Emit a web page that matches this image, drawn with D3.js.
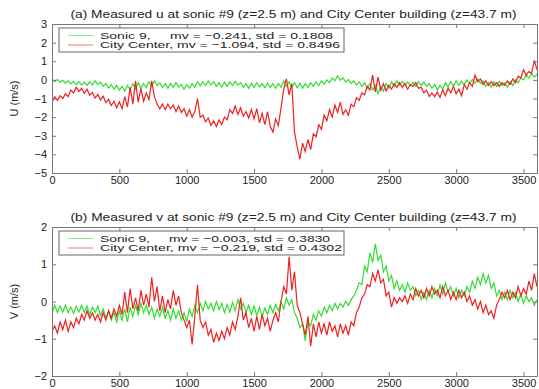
<!DOCTYPE html>
<html><head><meta charset="utf-8">
<script src="https://cdn.jsdelivr.net/npm/d3@7"></script>
<style>
body{margin:0;background:#fff;}
svg{display:block;font-family:"Liberation Sans",Arial,sans-serif;}
</style></head>
<body><svg id="c" width="539" height="389"></svg>
<script>
// sampling every 20 s from 0 to 3600 s
const timeStep = 20;
const xTicks = [0,500,1000,1500,2000,2500,3000,3500];
const uTicks = [-5,-4,-3,-2,-1,0,1,2,3];
const vTicks = [-2,-1,0,1,2];
const titles = ["(a) Measured u at sonic #9 (z=2.5 m) and City Center building (z=43.7 m)",
                "(b) Measured v at sonic #9 (z=2.5 m) and City Center building (z=43.7 m)"];
const yLabels = ["U (m/s)","V (m/s)"];
const legendU = ["Sonic 9,     mv = \u22120.241, std = 0.1808","City Center, mv = \u22121.094, std = 0.8496"];
const legendV = ["Sonic 9,     mv = \u22120.003, std = 0.3830","City Center, mv = \u22120.219, std = 0.4302"];

const uSonic = [0.05,-0.10,0.02,-0.12,-0.02,-0.18,-0.05,-0.22,-0.08,-0.25,
-0.10,-0.28,-0.12,-0.30,-0.10,-0.28,-0.05,-0.25,-0.12,-0.35,
-0.20,-0.45,-0.25,-0.50,-0.30,-0.55,-0.35,-0.60,-0.30,-0.55,
-0.20,-0.50,-0.15,-0.45,-0.20,-0.40,-0.10,-0.35,-0.05,-0.30,
-0.15,-0.40,-0.20,-0.45,-0.20,-0.40,-0.15,-0.38,-0.25,-0.50,
-0.25,-0.45,-0.20,-0.40,-0.10,-0.32,-0.10,-0.30,-0.05,-0.28,
-0.10,-0.35,-0.15,-0.38,-0.12,-0.35,-0.10,-0.30,-0.08,-0.28,
-0.15,-0.40,-0.20,-0.45,-0.18,-0.40,-0.15,-0.38,-0.20,-0.42,
-0.18,-0.40,-0.20,-0.45,-0.20,-0.40,-0.05,-0.35,-0.10,-0.40,
-0.15,-0.42,-0.18,-0.45,-0.20,-0.40,-0.15,-0.35,-0.10,-0.30,
-0.05,-0.22,0.00,-0.15,0.10,-0.05,0.22,-0.02,0.10,-0.12,
0.02,-0.20,-0.05,-0.28,-0.10,-0.35,-0.15,-0.45,-0.20,-0.55,
-0.30,-0.75,-0.35,-0.60,-0.20,-0.45,-0.10,-0.35,-0.05,-0.28,
-0.08,-0.30,-0.10,-0.32,-0.12,-0.35,-0.10,-0.30,-0.12,-0.35,
-0.20,-0.45,-0.25,-0.55,-0.30,-0.50,-0.15,-0.38,-0.10,-0.32,
-0.05,-0.30,-0.08,-0.25,0.00,-0.20,0.02,-0.18,0.05,-0.20,
-0.05,-0.35,-0.15,-0.40,-0.10,-0.35,-0.08,-0.30,-0.15,-0.40,
-0.10,-0.30,0.00,-0.15,0.10,0.00,0.25,0.10,0.35,0.15,0.30];

const uCity = [-1.20,-0.90,-1.10,-0.85,-1.00,-0.75,-0.90,-0.55,-0.70,-0.40,
-0.62,-0.45,-0.72,-0.50,-0.82,-0.68,-0.98,-0.78,-1.08,-0.88,
-1.22,-1.05,-1.38,-1.15,-1.50,-1.18,-1.55,-0.90,-1.45,-0.40,
-1.30,-0.05,-1.20,-0.45,-1.15,-0.70,-1.05,-0.05,-0.90,-1.30,
-1.55,-1.30,-1.60,-1.30,-1.55,-1.35,-1.70,-1.40,-1.75,-1.55,
-1.95,-1.60,-2.00,-1.70,-1.00,-2.00,-1.90,-2.25,-2.05,-2.45,
-2.20,-2.50,-2.15,-2.40,-2.00,-2.15,-1.60,-1.80,-1.40,-1.85,
-1.50,-1.95,-1.70,-2.05,-1.60,-2.10,-1.55,-2.30,-1.80,-2.40,
-1.70,-2.50,-2.80,-2.10,-2.45,-1.50,-0.50,0.05,-0.80,-0.20,
-2.80,-3.60,-4.25,-3.40,-3.85,-3.20,-3.75,-2.90,-3.05,-2.40,
-2.65,-1.90,-2.20,-1.60,-2.00,-1.35,-1.75,-1.20,-1.85,-1.60,
-1.90,-1.30,-1.45,-0.95,-1.10,-0.70,-0.80,-0.35,-0.55,0.25,
-0.65,0.15,-0.55,-0.20,-0.60,-0.30,-0.50,-0.20,-0.40,-0.15,
-0.40,-0.20,-0.50,-0.25,-0.35,-0.15,-0.45,-0.40,-0.70,-0.55,
-0.90,-0.70,-0.90,-0.65,-0.95,-0.55,-0.85,-0.45,-0.70,-0.35,
-0.75,-0.50,-0.85,-0.25,-0.50,-0.15,-0.35,0.25,-0.10,0.05,
-0.25,-0.05,-0.30,-0.10,-0.30,-0.15,-0.35,-0.15,-0.30,-0.05,
-0.25,0.05,-0.15,0.20,0.10,0.55,0.25,0.45,0.35,1.05,0.55];

const vSonic = [-0.30,-0.10,-0.30,-0.12,-0.28,-0.10,-0.30,-0.15,-0.32,-0.12,
-0.28,-0.10,-0.30,-0.12,-0.35,-0.15,-0.30,-0.12,-0.38,-0.20,
-0.45,-0.25,-0.50,-0.30,-0.55,-0.25,-0.50,-0.20,-0.55,-0.15,
-0.40,-0.10,-0.35,-0.05,-0.30,-0.10,-0.35,-0.15,-0.45,-0.20,
-0.40,-0.15,-0.45,-0.25,-0.50,-0.20,-0.45,-0.25,-0.50,-0.30,
-0.55,-0.20,-0.40,-0.10,-0.30,-0.05,-0.25,0.00,-0.20,-0.05,
-0.25,0.00,-0.22,-0.05,-0.30,-0.08,-0.28,-0.02,-0.25,0.05,
-0.20,-0.05,-0.30,-0.10,-0.35,-0.12,-0.38,-0.15,-0.40,-0.18,
-0.35,-0.10,-0.30,-0.08,-0.25,0.00,-0.20,0.10,-0.10,0.05,
-0.30,-0.45,-0.70,-0.60,-1.05,-0.55,-0.65,-0.35,-0.50,-0.25,
-0.40,-0.15,-0.30,-0.10,-0.25,-0.05,-0.20,-0.05,-0.15,0.00,
-0.10,0.05,0.15,0.30,0.50,0.45,0.95,0.80,1.30,1.05,
1.55,1.10,1.25,0.80,0.95,0.55,0.70,0.35,0.55,0.30,
0.45,0.25,0.50,0.30,0.40,0.15,0.30,0.05,0.25,0.05,
0.30,0.10,0.35,0.15,0.45,0.20,0.50,0.25,0.40,0.15,
0.35,0.10,0.30,0.15,0.40,0.25,0.55,0.35,0.65,0.45,
0.75,0.50,0.70,0.35,0.50,0.15,0.30,0.05,0.25,0.05,
0.30,0.10,0.25,0.00,0.20,-0.05,0.15,0.00,0.10,-0.10,0.05];

const vCity = [-0.80,-0.65,-0.85,-0.55,-0.75,-0.50,-0.80,-0.55,-0.70,-0.45,
-0.60,-0.35,-0.50,-0.25,-0.45,-0.30,-0.50,-0.35,-0.55,-0.30,
-0.50,-0.25,-0.45,-0.20,-0.40,-0.10,-0.35,0.25,-0.30,0.35,
-0.20,0.10,-0.25,0.30,-0.10,0.20,-0.15,0.65,0.00,0.40,
-0.25,0.15,-0.30,0.05,-0.20,0.30,-0.10,0.15,-0.30,-0.50,
-0.70,-0.50,-1.15,-0.40,0.45,-0.50,-0.70,-0.55,-0.90,-0.75,
-1.10,-0.85,-1.05,-0.80,-1.00,-0.70,-0.90,-0.55,-0.75,-0.40,
0.10,-0.50,-0.30,-0.70,-0.45,-0.80,-0.40,-0.75,-0.35,-0.65,
-0.45,-0.80,-0.50,-0.30,-0.55,0.00,0.40,0.20,1.20,0.30,
0.80,-0.10,-0.30,-0.60,-0.90,-0.40,-1.20,-0.60,-0.95,-0.55,
-0.85,-0.60,-0.90,-0.55,-0.80,-0.65,-0.95,-0.60,-0.85,-0.65,
-0.90,-0.55,-0.65,-0.30,-0.15,0.10,0.20,0.45,0.40,0.75,
0.55,0.85,0.50,0.60,0.15,0.25,-0.15,0.10,-0.05,0.10,
0.00,0.15,-0.05,0.20,0.05,0.35,0.15,0.30,0.10,0.35,
0.15,0.40,0.20,0.30,0.10,0.40,0.15,0.30,0.05,0.25,
0.05,0.30,0.10,0.25,0.00,0.15,-0.10,0.05,-0.20,0.00,
-0.30,-0.10,-0.35,-0.25,-0.45,-0.10,0.05,0.25,0.10,0.30,
0.05,0.25,0.10,0.40,0.15,0.35,0.20,0.55,0.30,0.75,0.40];

const green = "#33dd33", red = "#ee2020";
const legGreen = "#8fe88f", legRed = "#e87a7a";
const svg = d3.select("#c");
const margin = {left:52, right:537};
const x = d3.scaleLinear().domain([0,3600]).range([margin.left, margin.right]);
const FONT = '"Liberation Sans",Arial,sans-serif';

const panels = [
  {top:24, bottom:173, dom:[-5,3], ticks:uTicks, a:uSonic, b:uCity, title:titles[0], ylab:yLabels[0], leg:legendU, legW:[233,240]},
  {top:227, bottom:376, dom:[-2,2], ticks:vTicks, a:vSonic, b:vCity, title:titles[1], ylab:yLabels[1], leg:legendV, legW:[230,242]}
];

const fmt = d => d < 0 ? "\u2212" + Math.abs(d) : String(d);

panels.forEach((p, i) => {
  const y = d3.scaleLinear().domain(p.dom).range([p.bottom, p.top]);
  const g = svg.append("g");
  const clipId = "clip" + i;
  svg.append("clipPath").attr("id", clipId).append("rect")
    .attr("x", margin.left).attr("y", p.top)
    .attr("width", margin.right - margin.left).attr("height", p.bottom - p.top);

  const line = d3.line().x((d, j) => x(j * timeStep)).y(d => y(d));
  g.append("path").datum(p.a).attr("d", line).attr("fill","none")
    .attr("stroke", green).attr("stroke-width", 1.2).attr("clip-path", `url(#${clipId})`);
  g.append("path").datum(p.b).attr("d", line).attr("fill","none")
    .attr("stroke", red).attr("stroke-width", 1.2).attr("clip-path", `url(#${clipId})`);

  // axes (MATLAB style inward ticks on all four sides)
  const axB = g.append("g").attr("transform", `translate(0,${p.bottom})`)
    .call(d3.axisBottom(x).tickValues(xTicks).tickSize(-4).tickPadding(3).tickFormat(d3.format("d")));
  const axT = g.append("g").attr("transform", `translate(0,${p.top})`)
    .call(d3.axisTop(x).tickValues(xTicks).tickSize(-4).tickFormat(""));
  const axL = g.append("g").attr("transform", `translate(${margin.left},0)`)
    .call(d3.axisLeft(y).tickValues(p.ticks).tickSize(-4).tickPadding(5).tickFormat(fmt));
  const axR = g.append("g").attr("transform", `translate(${margin.right},0)`)
    .call(d3.axisRight(y).tickValues(p.ticks).tickSize(-4).tickFormat(""));
  [axB, axT, axL, axR].forEach(a => {
    a.select(".domain").attr("stroke", "#777");
    a.selectAll(".tick line").attr("stroke", "#777");
    a.selectAll("text").attr("fill", "#222").style("font-size", "11px")
      .style("font-family", FONT);
  });

  // title
  svg.append("text").attr("x", (margin.left + margin.right) / 2 - 1).attr("y", p.top - 6)
    .attr("text-anchor", "middle").attr("fill", "#222").style("font-size", "10.5px")
    .attr("textLength", 446).attr("lengthAdjust", "spacingAndGlyphs").text(p.title);
  // y label
  svg.append("text").attr("transform", `translate(18,${(p.top + p.bottom) / 2}) rotate(-90)`)
    .attr("text-anchor", "middle").attr("fill", "#222").style("font-size", "11px").text(p.ylab);

  // legend
  const lx = 59, ly = p.top + 4, lw = 285, lh = 24;
  const lg = svg.append("g");
  lg.append("rect").attr("x", lx).attr("y", ly).attr("width", lw).attr("height", lh)
    .attr("fill", "#fff").attr("stroke", "#666").attr("stroke-width", 1);
  [[legGreen, p.leg[0]], [legRed, p.leg[1]]].forEach(([c, t], k) => {
    const yy = ly + 7.5 + k * 9.5;
    lg.append("line").attr("x1", lx + 9).attr("x2", lx + 34).attr("y1", yy).attr("y2", yy)
      .attr("stroke", c).attr("stroke-width", 1);
    lg.append("text").attr("x", lx + 41).attr("y", yy + 3.3).attr("fill", "#222")
      .style("font-size", "9.5px").style("white-space", "pre")
      .attr("textLength", p.legW[k]).attr("lengthAdjust", "spacingAndGlyphs").text(t);
  });
});
</script>
</body></html>
